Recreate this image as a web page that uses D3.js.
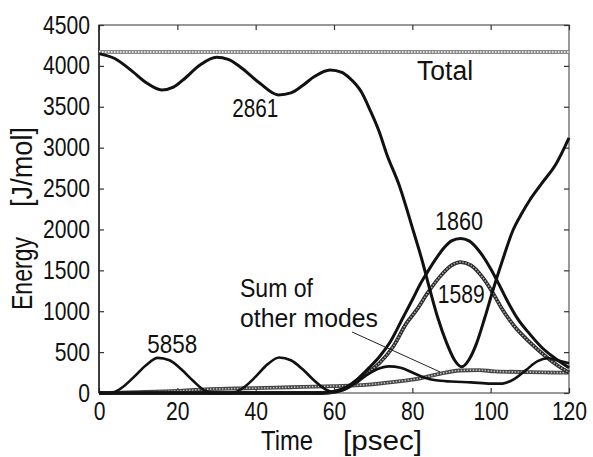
<!DOCTYPE html>
<html lang="en">
<head>
<meta charset="UTF-8">
<title>Energy of modes</title>
<script src="https://d3js.org/d3.v7.min.js"></script>
<style>
  body { margin: 0; background: #fff; }
  text { font-family: "Liberation Sans", Arial, sans-serif; fill: #111; }
</style>
</head>
<body>
<svg id="chart" width="593" height="457"></svg>
<script>
// values (time in psec, energy in J/mol)
var totalT = [0, 120];
var totalE = [4170, 4170];

var m2861T = [0, 4, 8.6, 12.2, 16, 19, 21.5, 25.8, 30, 33, 36, 41, 45.8, 49, 52, 55, 59, 62, 64, 67, 69.2, 71.5, 73.4, 76.8, 80.2, 82.5, 84.5, 86.5, 88.8, 90.8, 92.6, 94.5, 96.4, 98.5, 100.6, 103, 105.7, 108, 110, 113, 116.8, 120];
var m2861E = [4150, 4090, 3930, 3790, 3705, 3740, 3830, 4010, 4105, 4080, 3990, 3790, 3645, 3670, 3760, 3870, 3950, 3920, 3850, 3680, 3460, 3200, 2930, 2520, 1990, 1620, 1260, 920, 607, 400, 320, 410, 607, 920, 1260, 1620, 1990, 2200, 2360, 2560, 2810, 3120];

var m5858T = [0, 3, 6, 9, 12, 15, 18, 21, 24, 27, 29, 34, 37, 40, 43, 46, 49, 52, 55, 58, 60, 62, 65, 68, 71, 74, 77, 80, 83, 86, 90, 95, 100, 103, 106, 109, 112, 114.5, 117, 120];
var m5858E = [0, 0, 70, 200, 340, 430, 400, 290, 150, 30, 0, 0, 70, 200, 350, 435, 400, 290, 150, 40, 10, 30, 110, 210, 290, 325, 310, 250, 190, 155, 140, 130, 115, 115, 170, 280, 390, 425, 400, 365];

var m1860T = [0, 56, 60, 63, 66, 69, 71.7, 74.3, 77.7, 80, 82, 84, 86, 88, 90, 92.3, 94.5, 97, 100, 102, 104, 107, 110, 113, 116, 120];
var m1860E = [0, 0, 20, 70, 170, 310, 450, 620, 930, 1140, 1330, 1490, 1640, 1770, 1860, 1890, 1860, 1740, 1520, 1340, 1150, 900, 720, 560, 440, 310];

var m1589T = [0, 57, 60, 63, 66, 69, 71.7, 75, 78.6, 81, 84, 87, 90, 92.3, 95, 98, 100.6, 103, 106, 110, 114, 117, 120];
var m1589E = [0, 0, 15, 55, 140, 260, 370, 560, 860, 1010, 1230, 1420, 1560, 1600, 1560, 1410, 1220, 1020, 820, 620, 450, 340, 250];

var otherT = [0, 10, 20, 27, 35, 45, 52, 60, 68, 76, 82, 87, 92, 97, 101, 110, 120];
var otherE = [0, 10, 25, 45, 55, 65, 75, 85, 100, 140, 180, 235, 275, 280, 265, 255, 248];

var xTicks = [0, 20, 40, 60, 80, 100, 120];
var yTicks = [0, 500, 1000, 1500, 2000, 2500, 3000, 3500, 4000, 4500];

// labels: text, time, energy (baseline start), width in px
var labelText = ["Total", "2861", "1860", "1589", "5858", "Sum of", "other modes"];
var labelT = [81.2, 34, 85.8, 86.5, 12.3, 36, 36];
var labelE = [3828, 3375, 1993, 1100, 489, 1174, 807];
var labelW = [56, 46, 48, 47, 50, 73, 138];

var pointerT = [64.6, 87.1];
var pointerE = [746, 257];

var svg = d3.select("#chart");
var x = d3.scaleLinear().domain([0, 120]).range([99, 569]);
var y = d3.scaleLinear().domain([0, 4500]).range([393, 25]);

function pts(ts, es) {
    return ts.map(function(t, i) { return [t, es[i]]; });
}
var line = d3.line()
    .x(function(d) { return x(d[0]); })
    .y(function(d) { return y(d[1]); })
    .curve(d3.curveMonotoneX);

// frame
svg.append("rect")
    .attr("x", x(0)).attr("y", y(4500))
    .attr("width", x(120) - x(0)).attr("height", y(0) - y(4500))
    .style("fill", "none").style("stroke", "#555").style("stroke-width", 1.2);

// axes with inward ticks
var fmt = d3.format("d");
svg.append("g").attr("class", "lab").attr("transform", "translate(0," + y(0) + ")")
    .call(d3.axisBottom(x).tickValues(xTicks).tickFormat(fmt).tickSizeInner(-5).tickSizeOuter(0).tickPadding(9));
svg.append("g").attr("transform", "translate(0," + y(4500) + ")")
    .call(d3.axisTop(x).tickValues(xTicks).tickSizeInner(-5).tickSizeOuter(0).tickFormat(""));
svg.append("g").attr("class", "lab").attr("transform", "translate(" + x(0) + ",0)")
    .call(d3.axisLeft(y).tickValues(yTicks).tickFormat(fmt).tickSizeInner(-5).tickSizeOuter(0).tickPadding(9));
svg.append("g").attr("transform", "translate(" + x(120) + ",0)")
    .call(d3.axisRight(y).tickValues(yTicks).tickSizeInner(-5).tickSizeOuter(0).tickFormat(""));

svg.selectAll(".domain").remove();
svg.selectAll(".tick line").style("stroke", "#333").style("stroke-width", 1.2);
svg.selectAll(".lab .tick text")
    .style("font-size", "25px").style("fill", "#111")
    .style("font-family", '"Liberation Sans", Arial, sans-serif')
    .attr("textLength", function(d) { return 11.75 * fmt(d).length; })
    .attr("lengthAdjust", "spacingAndGlyphs");
// y axis line darker
svg.append("line").attr("x1", x(0)).attr("x2", x(0)).attr("y1", y(4500)).attr("y2", y(0))
    .style("stroke", "#222").style("stroke-width", 1.5);

// hatched lines: dark base + light dash
function hatched(data, base, light, w) {
    svg.append("path").attr("d", line(data))
        .style("fill", "none").style("stroke", base).style("stroke-width", w);
    svg.append("path").attr("d", line(data))
        .style("fill", "none").style("stroke", light).style("stroke-width", w - 2.2)
        .style("stroke-dasharray", "1.5,1.5");
}
function solid(data, w) {
    svg.append("path").attr("d", line(data))
        .style("fill", "none").style("stroke", "#111").style("stroke-width", w)
        .style("stroke-linejoin", "round");
}

hatched(pts(totalT, totalE), "#8a8a8a", "#e2e2e2", 4);
hatched(pts(otherT, otherE), "#444", "#bdbdbd", 3.8);
hatched(pts(m1589T, m1589E), "#2a2a2a", "#a8a8a8", 3.8);
solid(pts(m1860T, m1860E), 3);
solid(pts(m5858T, m5858E), 2.6);
solid(pts(m2861T, m2861E), 3);

// pointer for "Sum of other modes"
svg.append("line")
    .attr("x1", x(pointerT[0])).attr("y1", y(pointerE[0]))
    .attr("x2", x(pointerT[1])).attr("y2", y(pointerE[1]))
    .style("stroke", "#222").style("stroke-width", 1);

// labels
labelText.forEach(function(s, i) {
    svg.append("text")
        .attr("x", x(labelT[i])).attr("y", y(labelE[i]))
        .style("font-size", i === 0 ? "27px" : "25px")
        .attr("textLength", labelW[i]).attr("lengthAdjust", "spacingAndGlyphs")
        .text(s);
});

// axis titles
svg.append("text").attr("x", 261).attr("y", 450).style("font-size", "28px")
    .attr("textLength", 52).attr("lengthAdjust", "spacingAndGlyphs").text("Time");
svg.append("text").attr("x", 343).attr("y", 450).style("font-size", "28px")
    .attr("textLength", 79).attr("lengthAdjust", "spacingAndGlyphs").text("[psec]");

var yt = svg.append("g").attr("transform", "translate(32,310) rotate(-90)");
yt.append("text").attr("x", 0).attr("y", 0).style("font-size", "29px")
    .attr("textLength", 73).attr("lengthAdjust", "spacingAndGlyphs").text("Energy");
yt.append("text").attr("x", 103).attr("y", 0).style("font-size", "29px")
    .attr("textLength", 80).attr("lengthAdjust", "spacingAndGlyphs").text("[J/mol]");
</script>
</body>
</html>
